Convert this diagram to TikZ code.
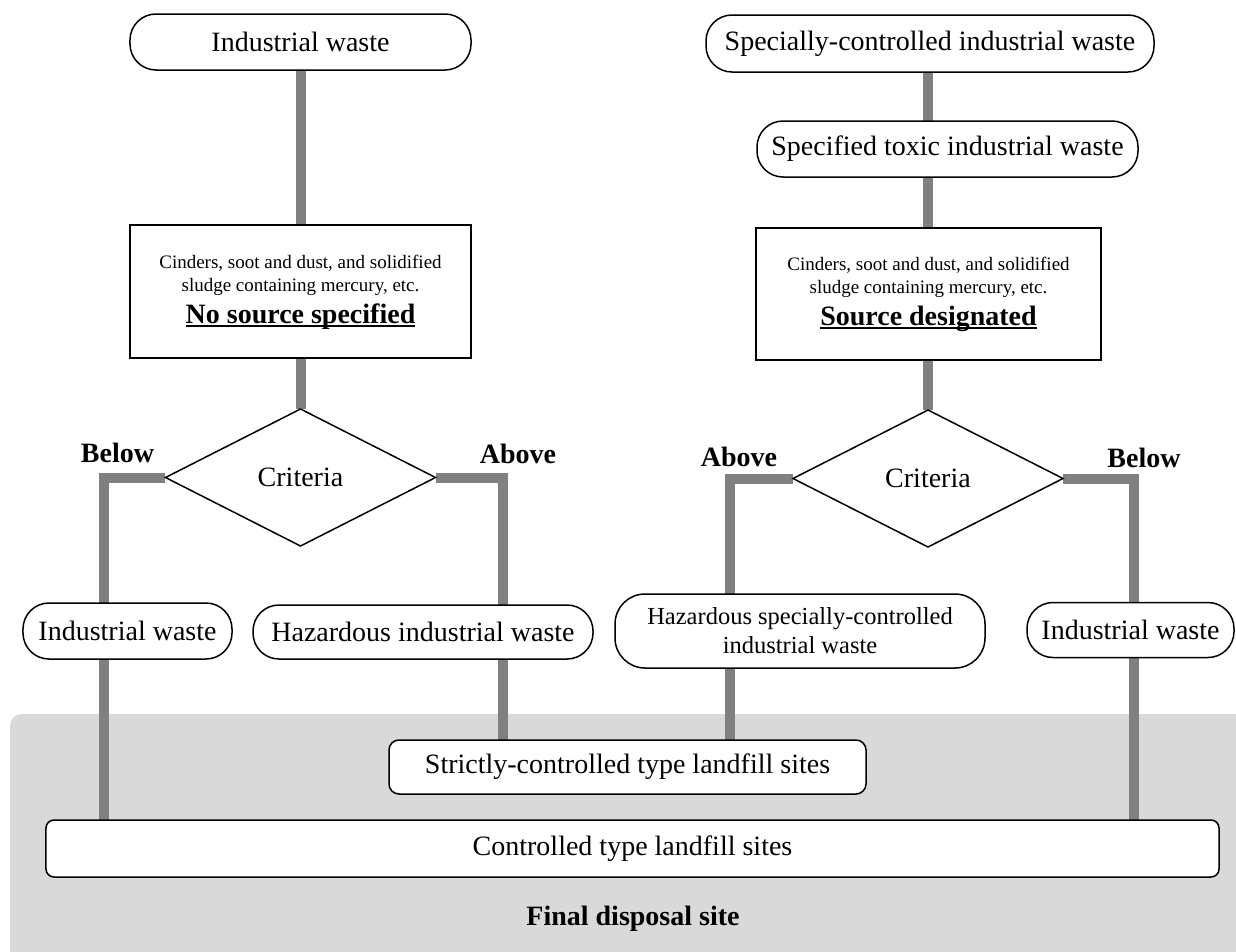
\documentclass[tikz,border=0pt]{standalone}
\usepackage{fontspec}
\setmainfont{Liberation Serif}
\usetikzlibrary{shapes.geometric}
\pgfdeclarelayer{bgl}
\pgfdeclarelayer{lnl}
\pgfsetlayers{bgl,lnl,main}
\newcommand\ulbold[1]{\setbox0\hbox{#1}\rlap{\rule[-3.5bp]{\wd0}{2bp}}\box0}
\definecolor{linkgray}{RGB}{128,128,128}
\definecolor{sitegray}{RGB}{217,217,217}
\begin{document}
\begin{tikzpicture}[x=1bp,y=-1bp,
  txt/.style={font=\fontsize{28bp}{32bp}\selectfont},
  boldtxt/.style={font=\fontsize{28bp}{32bp}\selectfont\bfseries},
  smalltxt/.style={font=\fontsize{19bp}{23bp}\selectfont, align=center, inner sep=0pt},
  pill/.style={draw, line width=1.5bp, fill=white, rounded corners=26bp, inner sep=0pt, outer sep=0pt, txt},
  sqbox/.style={draw, line width=1.5bp, fill=white, inner sep=0pt, outer sep=0pt},
  sitebox/.style={draw, line width=1.5bp, fill=white, inner sep=0pt, outer sep=0pt, txt},
  decide/.style={diamond, draw, line width=1.5bp, fill=white, minimum width=270bp, minimum height=137bp, inner sep=0pt, outer sep=0pt, txt},
  link/.style={draw=linkgray, line width=10bp, line join=miter}
]
\useasboundingbox (0,0) rectangle (1236,952);

% final disposal site area
\begin{pgfonlayer}{bgl}
\fill[sitegray, rounded corners=12bp] (10,714) rectangle (1270,990);
\end{pgfonlayer}
\node[boldtxt] (final) at (633,919) {Final disposal site};

% left column
\node[pill, minimum width=341bp, minimum height=56bp] (iw1) at (300.5,42) {Industrial waste};
\node[sqbox, minimum width=341bp, minimum height=133bp] (box1) at (300.5,291.5) {};
\node[smalltxt] (b1t) at (300.5,275.5) {Cinders, soot and dust, and solidified\\sludge containing mercury, etc.};
\node[boldtxt, inner sep=0pt] (b1h) at (300.5,317) {\ulbold{No source specified}};
\node[decide] (dia1) at (300.5,477.5) {Criteria};
\node[boldtxt] (lb1) at (117.5,453) {Below};
\node[boldtxt] (la1) at (518,454) {Above};

% right column
\node[pill, minimum width=448bp, minimum height=57bp] (sciw) at (930,43.5) {Specially-controlled industrial waste};
\node[pill, minimum width=381bp, minimum height=56bp] (stiw) at (947.5,149) {Specified toxic industrial waste};
\node[sqbox, minimum width=345bp, minimum height=132bp] (box2) at (928.5,294) {};
\node[smalltxt] (b2t) at (928.5,277.5) {Cinders, soot and dust, and solidified\\sludge containing mercury, etc.};
\node[boldtxt, inner sep=0pt] (b2h) at (928.5,319) {\ulbold{Source designated}};
\node[decide] (dia2) at (928,478.5) {Criteria};
\node[boldtxt] (la2) at (739,457) {Above};
\node[boldtxt] (lb2) at (1144,458) {Below};

% results
\node[pill, minimum width=209bp, minimum height=56bp] (iw2) at (127.5,631) {Industrial waste};
\node[pill, minimum width=340bp, minimum height=54bp] (hiw) at (423,632) {Hazardous industrial waste};
\node[pill, rounded corners=30bp, minimum width=370bp, minimum height=74bp,
      font=\fontsize{24.5bp}{29bp}\selectfont, align=center] (hsciw) at (800,631)
      {Hazardous specially-controlled\\industrial waste};
\node[pill, minimum width=207bp, minimum height=55bp] (iw3) at (1130.5,630) {Industrial waste};

% landfill sites
\node[sitebox, rounded corners=10bp, minimum width=477bp, minimum height=54bp] (strict) at (627.5,767) {Strictly-controlled type landfill sites};
\node[sitebox, rounded corners=8bp, minimum width=1173bp, minimum height=57bp] (ctrl) at (632.5,848.5) {Controlled type landfill sites};

% column coordinates
\coordinate (xL) at (104,0);
\coordinate (xH) at (503,0);
\coordinate (xA) at (730,0);
\coordinate (xB) at (1134,0);
\coordinate (xR) at (928,0);

\begin{pgfonlayer}{lnl}
\draw[link] (iw1.south) -- (box1.north);
\draw[link] (box1.south) -- (dia1.north);
\draw[link] (dia1.west) -| (xL |- iw2.north);
\draw[link] (xL |- iw2.south) -- (xL |- ctrl.north);
\draw[link] (dia1.east) -| (xH |- hiw.north);
\draw[link] (xH |- hiw.south) -- (xH |- strict.north);

\draw[link] (sciw.south -| xR) -- (stiw.north -| xR);
\draw[link] (stiw.south -| xR) -- (box2.north -| xR);
\draw[link] (box2.south -| xR) -- (dia2.north -| xR);
\draw[link] (dia2.west) -| (xA |- hsciw.north);
\draw[link] (xA |- hsciw.south) -- (xA |- strict.north);
\draw[link] (dia2.east) -| (xB |- iw3.north);
\draw[link] (xB |- iw3.south) -- (xB |- ctrl.north);
\end{pgfonlayer}
\end{tikzpicture}
\end{document}
